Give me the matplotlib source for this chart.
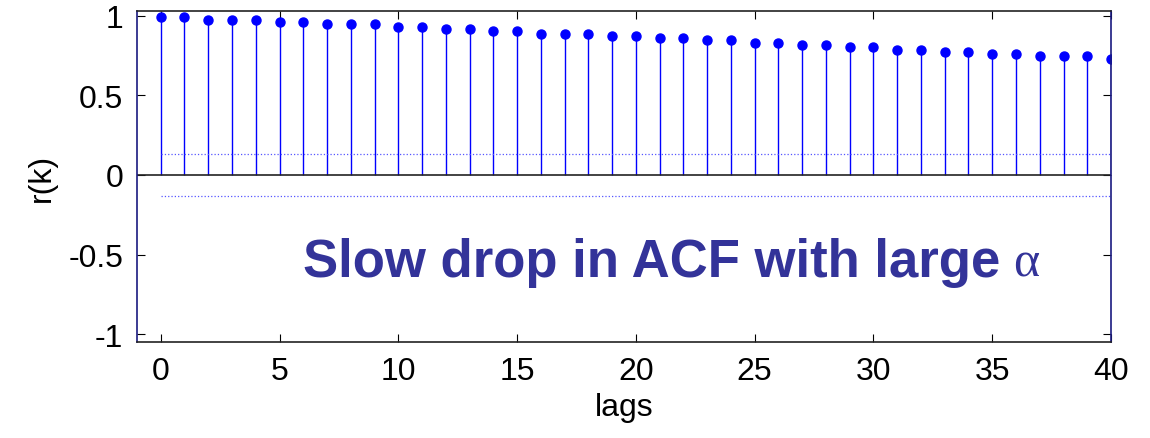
import matplotlib
matplotlib.use("Agg")
import matplotlib.pyplot as plt
import numpy as np

plt.rcParams['font.family'] = ['Liberation Sans', 'DejaVu Sans']

# sample autocorrelation for lags 0..40
lags = np.arange(0, 41)
acf = [0.988, 0.988, 0.974, 0.974, 0.974, 0.959, 0.959, 0.945, 0.945, 0.945,
       0.930, 0.930, 0.915, 0.915, 0.901, 0.901, 0.886, 0.886, 0.886, 0.874,
       0.874, 0.857, 0.857, 0.844, 0.844, 0.830, 0.830, 0.815, 0.815, 0.800,
       0.800, 0.786, 0.786, 0.771, 0.771, 0.757, 0.757, 0.744, 0.744, 0.744,
       0.729]
conf = 0.13  # confidence bound
note = "Slow drop in ACF with large"
greek = "\u03b1"

fig = plt.figure(figsize=(11.5, 4.39), dpi=100)
ax = fig.add_axes([0.1191, 0.218, 0.8470, 0.7553])

ml, sl, bl = ax.stem(lags, acf, basefmt='k-')
plt.setp(sl, color='#0000ff', linewidth=1.0)
plt.setp(ml, color='#0000ff', markersize=6.5)
plt.setp(bl, color='#222222', linewidth=1.2, xdata=[-1, 40])

ax.plot([0, 40], [conf, conf], ':', color='#5555ff', linewidth=0.9)
ax.plot([0, 40], [-conf, -conf], ':', color='#5555ff', linewidth=0.9)

ax.set_xlim(-1, 40)
ax.set_ylim(-1.05, 1.03)
ax.set_xticks(np.arange(0, 41, 5))
ax.set_yticks([-1, -0.5, 0, 0.5, 1])
ax.set_yticklabels(['-1', '-0.5', '0', '0.5', '1'])
ax.tick_params(direction='in', length=6, width=0.8, top=True, right=True,
               labelsize=23, pad=10)
for s in ax.spines.values():
    s.set_linewidth(1.2)
    s.set_color('#222222')
ax.spines['left'].set_color('#1a1a80')
ax.spines['right'].set_color('#1a1a80')

ax.set_xlabel('lags', fontsize=23, labelpad=4)
ax.set_ylabel('r(k)', fontsize=23, labelpad=8)

t1 = ax.text(6.0, -0.633, note, fontsize=38, fontweight='bold', color='#333399',
             ha='left', va='baseline')
ax.annotate(greek, xy=(1, 0), xycoords=t1, xytext=(9, 0),
            textcoords='offset points', fontsize=36, color='#333399',
            family='Liberation Serif', ha='left', va='bottom')

fig.savefig('out.png', dpi=100)
